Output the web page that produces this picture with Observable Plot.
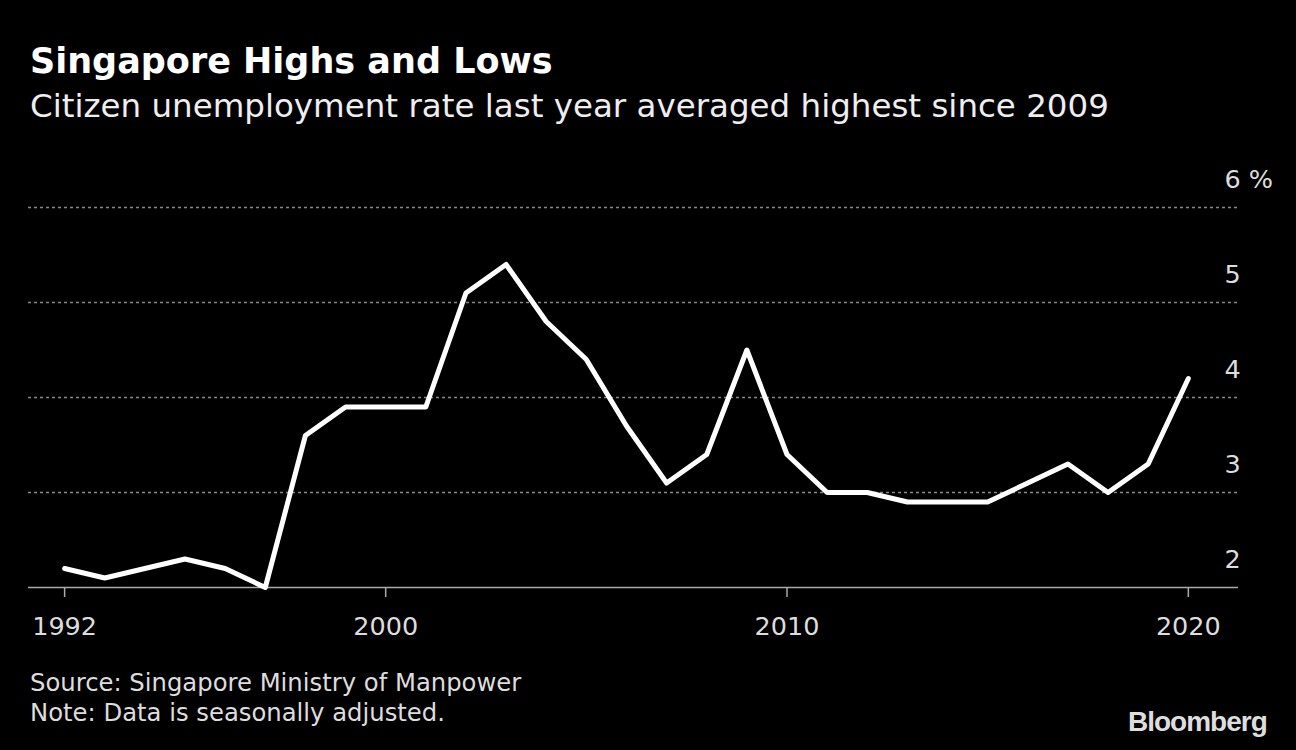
<!DOCTYPE html>
<html><head><meta charset="utf-8">
<script src="https://cdn.jsdelivr.net/npm/d3@7"></script>
<script src="https://cdn.jsdelivr.net/npm/@observablehq/plot@0.6"></script>
<style>
html,body{margin:0;padding:0;background:#000;width:1296px;height:750px;overflow:hidden;font-family:"DejaVu Sans",sans-serif;}
#title{position:absolute;left:30px;top:41px;font-size:35px;font-weight:bold;color:#fff;line-height:40px;white-space:nowrap;}
#subtitle{position:absolute;left:30px;top:86px;font-size:32.5px;color:#eee;line-height:40px;white-space:nowrap;}
#chart{position:absolute;left:0;top:160px;}
#source{position:absolute;left:30px;top:668px;font-size:24.3px;color:#ddd;line-height:30px;white-space:nowrap;}
#logo{position:absolute;left:1128px;top:706px;font-family:"Liberation Sans",Arial,sans-serif;font-weight:bold;font-size:28px;color:#ddd;letter-spacing:-1px;line-height:32px;}
</style></head><body>
<div id="title">Singapore Highs and Lows</div>
<div id="subtitle">Citizen unemployment rate last year averaged highest since 2009</div>
<div id="chart"></div>
<div id="source">Source: Singapore Ministry of Manpower<br>Note: Data is seasonally adjusted.</div>
<div id="logo">Bloomberg</div>
<script>
const years = [1992,1993,1994,1995,1996,1997,1998,1999,2000,2001,2002,2003,2004,2005,2006,2007,2008,2009,2010,2011,2012,2013,2014,2015,2016,2017,2018,2019,2020];
const rates = [2.2,2.1,2.2,2.3,2.2,2.0,3.6,3.9,3.9,3.9,5.1,5.4,4.8,4.4,3.7,3.1,3.4,4.5,3.4,3.0,3.0,2.9,2.9,2.9,3.1,3.3,3.0,3.3,4.2];
const xTicks = [1992,2000,2010,2020];
const yTicks = [2,3,4,5,6];
const gridTicks = [3,4,5,6];
const data = years.map((y,i)=>({year:y, rate:rates[i]}));

const plot = Plot.plot({
  width:1296, height:490,
  marginTop:47, marginBottom:63, marginLeft:28, marginRight:58,
  style:{background:"#000", color:"#ddd", fontFamily:"'DejaVu Sans',sans-serif", fontSize:"25.5px", overflow:"visible"},
  x:{domain:[1991.1,2021.25]},
  y:{domain:[2,6]},
  marks:[
    Plot.gridY(gridTicks, {stroke:"#888", strokeOpacity:1, strokeDasharray:"3,3", strokeWidth:1.5}),
    Plot.ruleY([2], {stroke:"#aaa", strokeWidth:1.5}),
    Plot.axisX(xTicks, {tickSize:10, tickPadding:19, stroke:"#aaa", strokeWidth:1.5, fill:"#ddd", tickFormat:d=>String(d), label:null}),
    Plot.axisY(yTicks, {anchor:"right", tickSize:0, tickPadding:0, textAnchor:"start", dx:-14, dy:-28, fill:"#ddd", tickFormat:d=>d===6?"6 %":String(d), label:null}),
    Plot.line(data, {x:"year", y:"rate", stroke:"#fff", strokeWidth:5, strokeLinejoin:"round"})
  ]
});
document.getElementById("chart").appendChild(plot);
</script>
</body></html>
